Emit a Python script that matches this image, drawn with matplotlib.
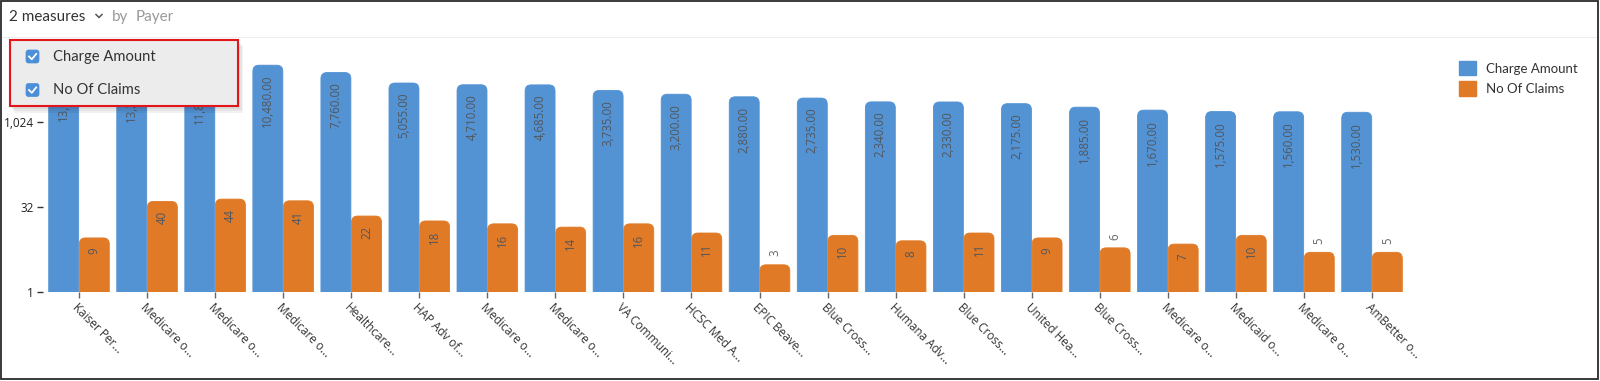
import matplotlib
matplotlib.use("Agg")
import matplotlib.pyplot as plt
import numpy as np
from matplotlib.patches import FancyBboxPatch, Rectangle, Patch
from matplotlib.transforms import IdentityTransform
from matplotlib.lines import Line2D
from matplotlib.ticker import NullLocator

# ---------------- data ----------------
payers = ["Kaiser Per...", "Medicare o...", "Medicare o...", "Medicare o...", "Healthcare...",
          "HAP Adv of...", "Medicare o...", "Medicare o...", "VA Communi...", "HCSC Med A...",
          "EPIC Beave...", "Blue Cross...", "Humana Adv...", "Blue Cross...", "United Hea...",
          "Blue Cross...", "Medicare o...", "Medicaid o...", "Medicare o...", "AmBetter o..."]
charge_amount = [13620, 13280, 11840, 10480, 7760, 5055, 4710, 4685, 3735, 3200,
                 2880, 2735, 2340, 2330, 2175, 1885, 1670, 1575, 1560, 1530]
no_of_claims = [9, 40, 44, 41, 22, 18, 16, 14, 16, 11, 3, 10, 8, 11, 9, 6, 7, 10, 5, 5]
y_ticks = [1, 32, 1024]
y_tick_labels = ["1", "32", "1,024"]
series_names = ["Charge Amount", "No Of Claims"]
header_measures = "2 measures"
header_by = "by"
header_dim = "Payer"

BLUE = "#5393d4"
ORANGE = "#e07a26"
W, H = 1600, 381
ID = IdentityTransform()

fig = plt.figure(figsize=(W / 100, H / 100), dpi=100)
ax = fig.add_axes([43 / W, 1 - 291.7 / H, (1410 - 43) / W, (291.7 - 37.3) / H])
ax.set_yscale("log", base=2)
ax.set_ylim(1, 2 ** 15)
x = np.arange(len(payers))
ax.set_xlim(-0.529, 19.558)
for s in ax.spines.values():
    s.set_visible(False)

bw = 0.44
off = 0.225
r = 6  # rounding radius (px)


def rounded_bar(xc, val, color):
    (x0, y0) = ax.transData.transform((xc - bw / 2, 1))
    (x1, y1) = ax.transData.transform((xc + bw / 2, val))
    p = FancyBboxPatch((x0, y0 - r), x1 - x0, (y1 - y0) + r,
                       boxstyle=f"round,pad=0,rounding_size={r}",
                       transform=ID, fc=color, ec=color, lw=0.6, zorder=2)
    ax.add_patch(p)
    p.set_clip_box(ax.bbox)
    return y1 - y0


def bar_label(xc, val, text, hpx):
    if hpx > 46:
        ax.annotate(text, xy=(xc, val), xytext=(0, -7), textcoords="offset points",
                    rotation=90, ha="center", va="top", fontsize=8.3,
                    family="Open Sans", color="#50565e", zorder=3)
    else:
        ax.annotate(text, xy=(xc, val), xytext=(0, 6), textcoords="offset points",
                    rotation=90, ha="center", va="bottom", fontsize=8.3,
                    family="Open Sans", color="#666666", zorder=3)


for i in range(len(payers)):
    h1 = rounded_bar(x[i] - off, charge_amount[i], BLUE)
    bar_label(x[i] - off, charge_amount[i], f"{charge_amount[i]:,.2f}", h1)
    h2 = rounded_bar(x[i] + off, no_of_claims[i], ORANGE)
    bar_label(x[i] + off, no_of_claims[i], f"{no_of_claims[i]:d}", h2)

ax.set_yticks(y_ticks)
ax.set_yticklabels(y_tick_labels, family="Open Sans", fontsize=8.5, color="#222222")
ax.yaxis.set_minor_locator(NullLocator())
ax.tick_params(axis="y", length=4.5, width=1, color="#333333", pad=2)
ax.set_xticks(x)
ax.set_xticklabels(payers, rotation=-45, ha="left", va="top", rotation_mode="anchor",
                   family="Open Sans", fontsize=8.5, color="#333333")
ax.tick_params(axis="x", length=4, width=1, color="#666666", pad=3)

# legend
fig.legend(handles=[Patch(fc=BLUE, ec=BLUE), Patch(fc=ORANGE, ec=ORANGE)],
           labels=series_names, loc="upper left",
           bbox_to_anchor=(1459 / W, 1 - 61 / H), frameon=False, borderpad=0,
           borderaxespad=0, handlelength=1.29, handleheight=1.29,
           handletextpad=0.76, labelspacing=0.45,
           prop={"family": "Lato", "size": 9.5}, labelcolor="#333333")

# header
fig.text(9, H - 17, header_measures, transform=ID, va="center", ha="left",
         fontsize=11, family="Lato", color="#333333")
fig.add_artist(Line2D([96, 99, 102], [H - 14.5, H - 17.5, H - 14.5], transform=ID,
                      color="#555555", lw=1.1))
fig.text(112, H - 17, header_by, transform=ID, va="center", ha="left",
         fontsize=11, family="Lato", color="#9a9a9a")
fig.text(136, H - 17, header_dim, transform=ID, va="center", ha="left",
         fontsize=11, family="Lato", color="#9a9a9a")
fig.add_artist(Line2D([2, W - 2], [H - 37, H - 37], transform=ID,
                      color="#eeeeee", lw=0.8))

# dropdown overlay
for k, a in enumerate([0.05, 0.05, 0.05]):
    d = 1 + k * 1.5
    fig.add_artist(Rectangle((10 + d, H - 107 - d * 1.5), 229, 67, transform=ID,
                             fc="#000000", alpha=a, lw=0, zorder=9))
fig.add_artist(Rectangle((10, H - 106), 228, 66, transform=ID, fc="#ececec",
                         ec="#e3151a", lw=1.5, zorder=10))
for cy, name in [(56.5, series_names[0]), (90, series_names[1])]:
    fig.add_artist(FancyBboxPatch((26, H - cy - 6.5), 13, 13,
                                  boxstyle="round,pad=0,rounding_size=2.5",
                                  transform=ID, fc="#4a8fd8", ec="#4a8fd8", lw=0.5,
                                  zorder=11))
    fig.add_artist(Line2D([29, 31.8, 36.2], [H - cy, H - cy - 2.8, H - cy + 2.6],
                          transform=ID, color="white", lw=1.3, zorder=12))
    fig.text(53, H - cy, name, transform=ID, va="center", ha="left",
             fontsize=10.6, family="Lato", color="#333333", zorder=12)

# outer frame
fig.add_artist(Rectangle((0.75, 1.75), W - 2.5, H - 2.5, transform=ID, fc="none",
                         ec="#2a2a2a", lw=1.3, zorder=20))

fig.savefig("out.png", dpi=100)
